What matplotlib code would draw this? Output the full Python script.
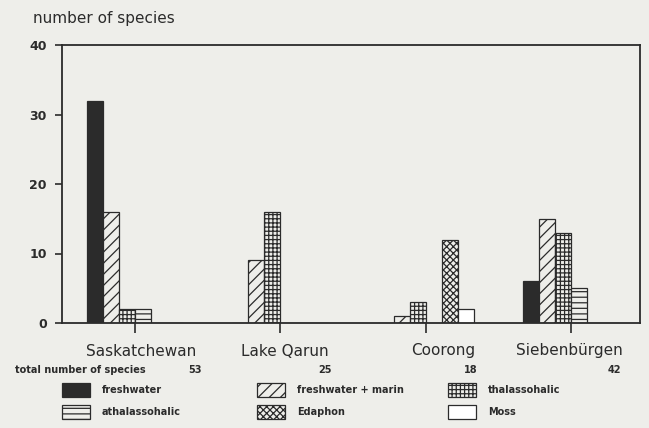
import matplotlib
matplotlib.use("Agg")
import matplotlib.pyplot as plt
from matplotlib.patches import Rectangle
from matplotlib.transforms import blended_transform_factory
import numpy as np

# Daten
lakes = ["Saskatchewan", "Lake Qarun", "Coorong", "Siebenbürgen"]
totals = ["53", "25", "18", "42"]
groups = ["freshwater", "freshwater + marin", "thalassohalic",
          "athalassohalic", "Edaphon", "Moss"]
freshwater = [32, 0, 0, 6]
freshwater_marin = [16, 9, 1, 15]
thalassohalic = [2, 16, 3, 13]
athalassohalic = [2, 0, 0, 5]
edaphon = [0, 0, 12, 0]
moss = [0, 0, 2, 0]
y_ticks = [0, 10, 20, 30, 40]

series = [freshwater, freshwater_marin, thalassohalic, athalassohalic, edaphon, moss]

# Stil
BG = "#eeeeea"
INK = "#2b2b2b"
fills = [INK, BG, BG, BG, BG, "white"]
hatches = [None, "///", "++++", "---", "xxxxx", None]
plt.rcParams["hatch.linewidth"] = 0.9
plt.rcParams["font.family"] = ["DejaVu Sans"]

W, H = 649, 428
fig = plt.figure(figsize=(W / 100, H / 100), dpi=100, facecolor=BG)
ax = fig.add_axes([62 / W, 1 - 323 / H, 578 / W, 278 / H], facecolor=BG)

x = np.arange(len(lakes))
width = 0.11
for j, vals in enumerate(series):
    ax.bar(x + (j - 2.5) * width, vals, width, color=fills[j], hatch=hatches[j],
           edgecolor=INK, linewidth=0.9, zorder=2)

ax.set_xlim(-0.502, 3.475)
ax.set_ylim(0, 40)
ax.set_yticks(y_ticks)
ax.set_yticklabels([str(t) for t in y_ticks], fontsize=9, fontweight="bold", color=INK)
ax.tick_params(axis="y", length=5, width=1.2, color=INK, pad=6)
ax.set_xticks(x)
ax.set_xticklabels([])
ax.tick_params(axis="x", length=7, width=1.2, color=INK)
for s in ax.spines.values():
    s.set_linewidth(1.3)
    s.set_color(INK)

fig.text(33 / W, 1 - 19 / H, "number of species", fontsize=11, color=INK, va="center")

# Kategorien und Gesamtzahlen unter der Achse
tr = blended_transform_factory(ax.transData, fig.transFigure)
name_dx = [0.04, 0.03, 0.12, -0.01]
total_dx = [0.41, 0.31, 0.31, 0.30]
for i, name in enumerate(lakes):
    fig.text(x[i] + name_dx[i], 1 - 351 / H, name, transform=tr, ha="center",
             va="center", fontsize=11, color=INK)
    fig.text(x[i] + total_dx[i], 1 - 370 / H, totals[i], transform=tr, ha="center",
             va="center", fontsize=7, fontweight="bold", color=INK)
fig.text(15 / W, 1 - 370 / H, "total number of species", fontsize=7,
         fontweight="bold", color=INK, va="center")

# Legende
leg_x = [62, 257, 448]
leg_y = [390, 412]
for k, label in enumerate(groups):
    row, col = divmod(k, 3)
    px, py = leg_x[col], leg_y[row]
    fig.add_artist(Rectangle((px / W, 1 - (py + 7) / H), 28 / W, 14 / H,
                             transform=fig.transFigure, facecolor=fills[k],
                             hatch=hatches[k], edgecolor=INK, linewidth=0.9))
    fig.text((px + 40) / W, 1 - py / H, label, fontsize=7, fontweight="bold",
             color=INK, va="center")

fig.savefig("out.png", dpi=100, facecolor=BG)
